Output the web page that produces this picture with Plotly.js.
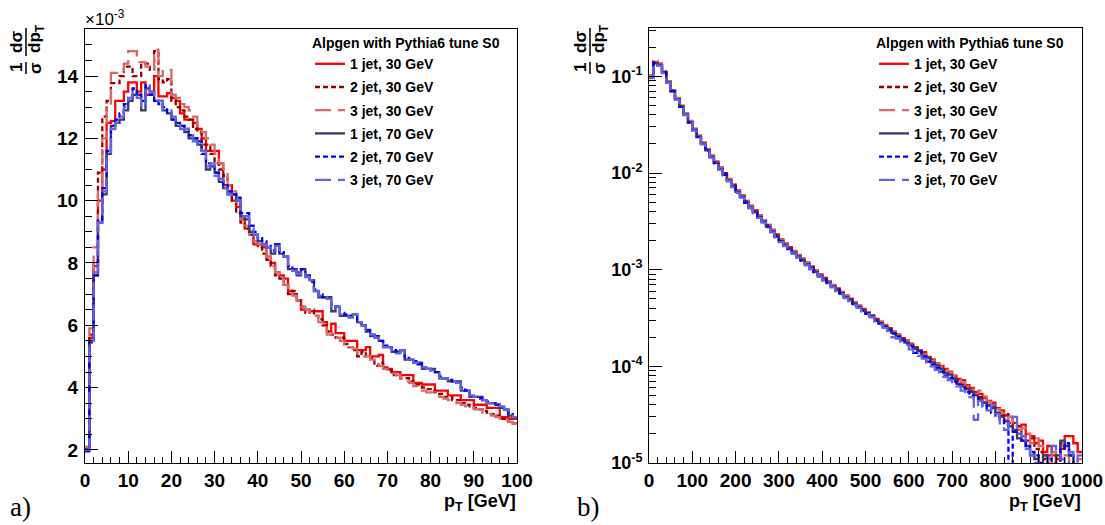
<!DOCTYPE html>
<html><head><meta charset="utf-8">
<script src="https://cdn.plot.ly/plotly-3.0.1.min.js"></script>
<style>html,body{margin:0;padding:0;background:#fff}#chart{width:1105px;height:525px}</style>
</head><body><div id="chart"></div>
<script>
// ---------- series definitions ----------
const seriesNames = ['1 jet, 30 GeV','2 jet, 30 GeV','3 jet, 30 GeV','1 jet, 70 GeV','2 jet, 70 GeV','3 jet, 70 GeV'];
const seriesColors = ['#ff0000','#990000','#d86a6a','#3a3a6a','#0000ff','#6464dc'];
const seriesDash = ['solid','5px,3px','16px,7px','solid','5px,3px','16px,7px'];
const legendTitle = 'Alpgen with Pythia6 tune S0';

// ---------- panel a) : 0-100 GeV, 1 GeV bins, values in units of 1e-3 ----------
const leftBinWidth = 1;
const leftYTickVals = [2,4,6,8,10,12,14];
const a_1jet30 = [2.05,5.6,7.9,10.0,11.0,12.5,12.55,13.2,13.2,13.5,
 13.8,13.8,13.5,13.8,13.4,13.4,14.0,13.35,13.35,13.45,
 13.3,13.2,12.8,12.6,12.6,12.5,12.3,12.0,11.6,11.6,
 11.6,11.2,10.5,10.5,10.0,9.8,9.4,9.1,8.9,8.6,
 8.6,8.5,8.2,8.0,7.7,7.6,7.5,7.1,7.0,6.8,
 6.5,6.5,6.45,6.45,6.45,6.1,5.8,6.05,5.75,5.75,
 5.5,5.5,5.5,5.2,5.2,5.3,5.0,5.0,5.05,4.65,
 4.6,4.5,4.5,4.4,4.4,4.4,4.15,4.15,4.1,4.1,
 4.1,3.9,3.9,3.9,3.75,3.75,3.75,3.6,3.6,3.6,
 3.45,3.45,3.45,3.35,3.35,3.35,3.05,3.05,3.0,3.0];
const a_2jet30 = [2.0,5.7,8.0,10.9,12.7,13.2,13.77,13.77,14.0,14.3,
 14.3,14.0,14.0,14.4,14.4,14.2,14.8,13.9,13.8,13.9,
 13.2,13.0,12.9,12.7,12.6,12.3,12.2,11.8,11.8,11.5,
 11.2,11.0,10.8,10.3,10.0,9.6,9.3,9.1,8.9,8.7,
 8.5,8.3,8.1,7.9,7.6,7.5,7.3,7.0,7.1,6.8,
 6.6,6.4,6.5,6.3,6.2,6.0,5.8,5.7,5.6,5.6,
 5.4,5.3,5.2,5.0,5.15,5.0,4.95,4.7,4.8,4.6,
 4.55,4.4,4.4,4.3,4.3,4.2,4.1,4.1,4.0,3.95,
 3.9,3.85,3.8,3.7,3.7,3.6,3.6,3.5,3.45,3.4,
 3.35,3.3,3.25,3.2,3.15,3.1,3.0,3.0,2.9,2.85];
const a_3jet30 = [2.1,5.9,8.5,10.4,12.0,13.0,14.1,14.1,14.1,14.4,
 14.8,14.8,14.45,14.45,14.3,14.2,14.85,14.0,14.2,14.2,
 13.4,13.3,13.1,13.0,12.9,12.7,12.4,12.2,12.0,11.8,
 11.5,11.2,10.9,10.5,10.3,9.8,9.4,9.2,8.9,8.7,
 8.6,8.4,8.2,7.9,7.7,7.5,7.3,7.2,6.95,6.8,
 6.6,6.5,6.3,6.3,6.1,6.0,5.7,5.75,5.6,5.5,
 5.4,5.3,5.25,5.1,5.0,5.0,4.9,4.8,4.7,4.6,
 4.5,4.45,4.4,4.3,4.2,4.15,4.05,4.0,3.9,3.85,
 3.85,3.8,3.7,3.65,3.6,3.55,3.5,3.45,3.4,3.35,
 3.3,3.3,3.2,3.15,3.1,3.05,3.0,2.95,2.9,2.85];
const a_1jet70 = [2.0,5.5,7.6,9.3,10.2,11.5,12.4,12.5,12.6,12.9,
 13.2,13.4,13.4,12.9,13.6,13.5,13.2,13.2,12.9,12.8,
 12.6,12.4,12.4,12.2,12.0,12.0,11.8,11.6,11.0,11.1,
 10.9,10.6,10.4,10.2,10.2,10.0,9.5,9.4,9.0,8.9,
 8.7,8.6,8.5,8.3,8.6,8.3,8.2,7.8,7.8,7.6,
 7.8,7.6,7.45,7.1,6.9,6.9,6.9,6.45,6.6,6.3,
 6.3,6.3,6.35,6.1,6.0,5.8,5.65,5.65,5.5,5.3,
 5.3,5.15,5.15,5.2,4.9,4.9,4.8,4.8,4.6,4.6,
 4.6,4.5,4.3,4.3,4.2,4.2,4.2,3.9,3.9,3.7,
 3.7,3.7,3.6,3.5,3.5,3.45,3.35,3.3,3.1,3.05];
const a_2jet70 = [1.95,5.45,7.6,9.4,10.4,11.6,12.4,12.6,12.8,13.1,
 13.3,13.6,13.4,13.2,13.7,13.4,13.2,13.1,13.0,12.8,
 12.6,12.5,12.4,12.3,12.1,12.0,11.9,11.5,11.2,11.1,
 10.9,10.7,10.5,10.3,10.2,10.1,9.6,9.6,9.2,9.0,
 8.8,8.7,8.55,8.4,8.6,8.35,8.2,7.9,7.8,7.7,
 7.8,7.6,7.4,7.15,7.0,6.9,6.85,6.6,6.6,6.4,
 6.35,6.3,6.3,6.1,6.0,5.85,5.7,5.65,5.5,5.35,
 5.3,5.2,5.15,5.2,4.95,4.9,4.85,4.75,4.65,4.6,
 4.55,4.5,4.35,4.3,4.25,4.2,4.15,4.0,3.9,3.75,
 3.7,3.65,3.6,3.55,3.5,3.45,3.35,3.25,3.15,3.05];
const a_3jet70 = [2.0,5.5,7.7,9.3,10.3,11.5,12.3,12.5,12.7,13.0,
 13.3,13.5,13.3,13.0,13.7,13.5,13.3,13.2,12.9,12.9,
 12.7,12.5,12.3,12.3,12.1,11.9,11.8,11.6,11.1,11.2,
 10.8,10.7,10.4,10.2,10.1,10.0,9.5,9.5,9.1,8.9,
 8.8,8.6,8.5,8.35,8.55,8.3,8.2,7.85,7.75,7.65,
 7.75,7.55,7.45,7.1,6.95,6.9,6.85,6.5,6.6,6.35,
 6.3,6.25,6.35,6.1,6.0,5.8,5.7,5.6,5.5,5.3,
 5.3,5.2,5.1,5.2,4.9,4.9,4.8,4.8,4.65,4.6,
 4.55,4.45,4.3,4.3,4.25,4.2,4.15,3.95,3.9,3.75,
 3.7,3.7,3.6,3.5,3.5,3.45,3.4,3.3,3.1,3.05];

// ---------- panel b) : 0-1000 GeV, 10 GeV bins (0 = empty bin) ----------
const rightBinWidth = 10;
const rightYTickVals = [1e-5,1e-4,1e-3,1e-2,1e-1];
const rightYTickText = ['10<sup>-5</sup>','10<sup>-4</sup>','10<sup>-3</sup>','10<sup>-2</sup>','10<sup>-1</sup>'];
const b_1jet30 = [0.100,0.140,0.133,0.111,0.0880,0.0715,0.0595,0.0495,0.0412,0.0343,
 0.0286,0.0243,0.0207,0.0177,0.0151,0.0131,0.0114,0.00995,0.00868,0.00757,
 0.00660,0.00590,0.00515,0.00460,0.00410,0.00366,0.00326,0.00291,0.00260,0.00231,
 0.00207,0.00188,0.00171,0.00156,0.00142,0.00130,0.00119,0.00108,0.000985,0.000900,
 0.000820,0.000760,0.000695,0.000640,0.000590,0.000540,0.000500,0.000462,0.000425,0.000392,
 0.000362,0.000338,0.000310,0.000290,0.000268,0.000248,0.000228,0.000214,0.000196,0.000185,
 0.000172,0.000158,0.000146,0.000140,0.000125,0.000118,0.000108,0.000101,0.0000940,0.0000880,
 0.0000800,0.0000740,0.0000720,0.0000640,0.0000600,0.0000540,0.0000520,0.0000470,0.0000440,0.0000420,
 0.0000370,0.0000350,0.0000310,0.0000300,0.0000260,0.0000240,0.0000250,0.0000200,0.0000190,0.0000160,
 0.0000170,0.0000130,0.0000150,0.0000120,0.0000110,0.0000140,0.0000190,0.0000190,0.0000160,0.0000130];
const b_2jet30 = [0.099,0.142,0.135,0.112,0.0885,0.0712,0.0590,0.0492,0.0410,0.0342,
 0.0284,0.0241,0.0206,0.0176,0.0150,0.0130,0.0113,0.00990,0.00860,0.00752,
 0.00655,0.00585,0.00512,0.00457,0.00407,0.00362,0.00323,0.00288,0.00257,0.00229,
 0.00205,0.00186,0.00170,0.00154,0.00140,0.00128,0.00117,0.00107,0.000975,0.000890,
 0.000812,0.000752,0.000690,0.000632,0.000582,0.000535,0.000496,0.000455,0.000420,0.000388,
 0.000358,0.000332,0.000306,0.000285,0.000262,0.000244,0.000226,0.000208,0.000194,0.000180,
 0.000166,0.000155,0.000142,0.000132,0.000122,0.000112,0.000106,0.0000970,0.0000900,0.0000830,
 0.0000780,0.0000700,0.0000660,0.0000600,0.0000560,0.0000540,0.0000480,0.0000420,0.0000400,0.0000380,
 0.0000330,0.0000310,0.0000320,0.0000260,0.0000230,0.0000240,0.0000190,0.0000170,0.0000180,0.0000140,
 0.0000130,0.0000110,0.0000120,0.0000100,0.0000090,0.0000160,0.0000140,0.0000120,0.0000080,0.0000060];
const b_3jet30 = [0.103,0.145,0.137,0.113,0.0890,0.0720,0.0598,0.0497,0.0415,0.0345,
 0.0287,0.0244,0.0208,0.0178,0.0152,0.0131,0.0114,0.00998,0.00865,0.00755,
 0.00658,0.00588,0.00514,0.00458,0.00409,0.00365,0.00325,0.00290,0.00258,0.00230,
 0.00206,0.00187,0.00170,0.00155,0.00141,0.00129,0.00118,0.00107,0.000980,0.000895,
 0.000818,0.000756,0.000692,0.000636,0.000588,0.000545,0.000498,0.000458,0.000424,0.000390,
 0.000360,0.000335,0.000308,0.000288,0.000265,0.000246,0.000228,0.000210,0.000195,0.000182,
 0.000168,0.000156,0.000145,0.000134,0.000124,0.000115,0.000107,0.0000990,0.0000920,0.0000860,
 0.0000790,0.0000730,0.0000680,0.0000620,0.0000580,0.0000520,0.0000560,0.0000490,0.0000430,0.0000400,
 0.0000360,0.0000330,0.0000280,0.0000300,0.0000260,0.0000220,0.0000230,0.0000200,0.0000160,0.0000180,
 0.0000150,0.0000120,0.0000100,0.0000130,0.0000110,0.0000150,0.0000120,0.0000090,0.0000070,0.0000110];
const b_1jet70 = [0.098,0.136,0.130,0.109,0.0865,0.0702,0.0582,0.0484,0.0402,0.0335,
 0.0279,0.0237,0.0201,0.0172,0.0147,0.0127,0.0110,0.00962,0.00838,0.00730,
 0.00637,0.00568,0.00496,0.00442,0.00394,0.00351,0.00313,0.00279,0.00249,0.00222,
 0.00198,0.00180,0.00164,0.00150,0.00137,0.00125,0.00114,0.00104,0.000950,0.000865,
 0.000790,0.000735,0.000672,0.000615,0.000572,0.000522,0.000488,0.000445,0.000415,0.000380,
 0.000355,0.000330,0.000300,0.000280,0.000260,0.000240,0.000222,0.000205,0.000190,0.000176,
 0.000165,0.000152,0.000145,0.000128,0.000122,0.000110,0.000102,0.0000940,0.0000850,0.0000820,
 0.0000740,0.0000660,0.0000620,0.0000580,0.0000540,0.0000500,0.0000460,0.0000420,0.0000390,0.0000370,
 0.0000330,0.0000300,0.0000270,0.0000240,0.0000220,0.0000180,0.0000170,0.0000150,0.0000120,0.0000110,
 0.0000100,0.0000120,0.0000090,0.0000080,0.0000120,0.0000170,0.0000150,0.0000120,0.0000090,0.0000070];
const b_2jet70 = [0.097,0.137,0.131,0.109,0.0862,0.0698,0.0580,0.0482,0.0400,0.0333,
 0.0277,0.0235,0.0200,0.0171,0.0146,0.0126,0.0109,0.00955,0.00830,0.00724,
 0.00632,0.00562,0.00492,0.00438,0.00390,0.00348,0.00310,0.00276,0.00246,0.00220,
 0.00196,0.00178,0.00163,0.00148,0.00135,0.00124,0.00113,0.00103,0.000940,0.000858,
 0.000782,0.000728,0.000665,0.000610,0.000566,0.000518,0.000480,0.000440,0.000410,0.000376,
 0.000350,0.000325,0.000296,0.000276,0.000255,0.000236,0.000218,0.000200,0.000186,0.000172,
 0.000160,0.000138,0.000142,0.000125,0.000112,0.000104,0.0000960,0.0000880,0.0000800,0.0000760,
 0.0000700,0.0000640,0.0000600,0.0000540,0.0000500,0.0000470,0.0000430,0.0000400,0.0000360,0.0000330,
 0.0000300,0.0000280,0.0000250,0,0.0000210,0.0000200,0.0000170,0.0000150,0.0000130,0.0000120,
 0.0000100,0.0000090,0.0000110,0.0000070,0,0.0000140,0.0000160,0.0000120,0.0000060,0];
const b_3jet70 = [0.096,0.135,0.129,0.108,0.0855,0.0692,0.0575,0.0478,0.0396,0.0330,
 0.0274,0.0232,0.0198,0.0169,0.0144,0.0124,0.0108,0.00945,0.00822,0.00716,
 0.00625,0.00555,0.00486,0.00432,0.00385,0.00343,0.00306,0.00272,0.00243,0.00216,
 0.00193,0.00175,0.00160,0.00146,0.00133,0.00122,0.00111,0.00101,0.000925,0.000845,
 0.000772,0.000718,0.000655,0.000600,0.000556,0.000508,0.000472,0.000432,0.000402,0.000370,
 0.000345,0.000322,0.000292,0.000272,0.000250,0.000232,0.000200,0.000194,0.000180,0.000168,
 0.000150,0.000140,0.000128,0.000120,0.000110,0.000100,0.0000920,0.0000860,0.0000780,0.0000720,
 0.0000660,0.0000620,0.0000560,0.0000520,0.0000480,0.0000280,0.0000440,0.0000380,0.0000350,0.0000400,
 0.0000320,0.0000250,0.0000220,0.0000260,0.0000300,0.0000200,0.0000190,0.0000140,0.0000120,0.0000100,
 0.0000090,0.0000080,0.0000110,0.0000150,0.0000130,0.0000110,0.0000080,0.0000130,0.0000100,0.0000120];

const leftSeries = [a_1jet30,a_2jet30,a_3jet30,a_1jet70,a_2jet70,a_3jet70];
const rightSeries = [b_1jet30,b_2jet30,b_3jet30,b_1jet70,b_2jet70,b_3jet70];

// ---------- helpers ----------
const W = 1105, H = 525;
const px = x => x / W;
const py = y => 1 - y / H;
const FONT = '"Liberation Sans", Arial, Helvetica, sans-serif';
function edges(n, w){ const e=[]; for(let i=0;i<=n;i++) e.push(i*w); return e; }
function stepY(v, floor){ const s = v.map(d => (d > 0 ? d : floor)); s.push(s[s.length-1]); return s; }

const traces = [];
leftSeries.forEach((v,i) => traces.push({
  type:'scatter', mode:'lines', x: edges(v.length, leftBinWidth), y: stepY(v, 0),
  xaxis:'x', yaxis:'y', name: seriesNames[i], legend:'legend', legendgroup:'a'+i,
  line:{shape:'hv', color: seriesColors[i], width:2.3, dash: seriesDash[i]}, hoverinfo:'skip'
}));
rightSeries.forEach((v,i) => traces.push({
  type:'scatter', mode:'lines', x: edges(v.length, rightBinWidth), y: stepY(v, 1e-9),
  xaxis:'x2', yaxis:'y2', name: seriesNames[i], legend:'legend2', legendgroup:'b'+i,
  line:{shape:'hv', color: seriesColors[i], width:2.3, dash: seriesDash[i]}, hoverinfo:'skip'
}));

const tickFont = {family: FONT, size: 19, color:'#000', weight:'bold'};
const axBase = {showline:true, mirror:true, linecolor:'#000', linewidth:1, ticks:'inside', ticklen:12,
  tickwidth:1, tickcolor:'#000', showgrid:false, zeroline:false, tickfont: tickFont, fixedrange:true};

const legendBase = (x) => ({x: px(x), y: py(30), xanchor:'left', yanchor:'top', bgcolor:'rgba(0,0,0,0)',
  borderwidth:0, font:{family:FONT, size:14, color:'#000', weight:'bold'}, traceorder:'grouped', tracegroupgap:2,
  title:{text: legendTitle, font:{family:FONT, size:14, color:'#000', weight:'bold'}}});

// y-title pieces: 1/σ · dσ/dp_T rotated
function yTitle(dx){
  const f = {family:FONT, size:17, color:'#000', weight:'bold'};
  const mk = (t,x,y) => ({text:t, x:px(x+dx), y:py(y), xref:'paper', yref:'paper', showarrow:false,
    textangle:-90, xanchor:'center', yanchor:'middle', font:f});
  return [mk('dσ',17,42), mk('dp<sub>T</sub>',36,39), mk('1',17,68), mk('σ',36,68)];
}
function yTitleBars(dx){
  const l = {color:'#000', width:1.5};
  return [
    {type:'line', xref:'paper', yref:'paper', x0:px(26+dx), x1:px(26+dx), y0:py(28), y1:py(56), line:l},
    {type:'line', xref:'paper', yref:'paper', x0:px(26+dx), x1:px(26+dx), y0:py(62), y1:py(74), line:l}
  ];
}

const layout = {
  width: W, height: H, margin:{l:0,r:0,t:0,b:0}, paper_bgcolor:'#fff', plot_bgcolor:'#fff',
  font:{family:FONT, color:'#000'}, showlegend:true,
  xaxis: Object.assign({}, axBase, {domain:[px(85), px(517)], range:[0,100], anchor:'y', tick0:0, dtick:10,
    ticklabelstandoff:0, minor:{dtick:2, ticklen:6, ticks:'inside', tickcolor:'#000', showgrid:false}}),
  yaxis: Object.assign({}, axBase, {domain:[py(463), py(29)], range:[1.58,15.51], anchor:'x',
    tickmode:'array', tickvals:leftYTickVals,
    ticklen:13, ticklabelstandoff:2, minor:{dtick:0.5, ticklen:6.5, ticks:'inside', tickcolor:'#000', showgrid:false}}),
  xaxis2: Object.assign({}, axBase, {domain:[px(649), px(1082)], range:[0,1000], anchor:'y2', tick0:0, dtick:100,
    ticklabelstandoff:0, minor:{dtick:20, ticklen:6, ticks:'inside', tickcolor:'#000', showgrid:false}}),
  yaxis2: Object.assign({}, axBase, {domain:[py(463), py(28)], type:'log', range:[-5,-0.5], anchor:'x2',
    tickmode:'array', tickvals:rightYTickVals, ticktext:rightYTickText,
    tickfont:{family:FONT, size:18, color:'#000', weight:'bold'},
    ticklen:13, ticklabelstandoff:2,
    minor:{dtick:'D1', ticklen:6.5, ticks:'inside', tickcolor:'#000', showgrid:false}}),
  legend: legendBase(310),
  legend2: legendBase(874),
  annotations: [
    {text:'×10<sup>-3</sup>', x:px(83), y:py(18), xref:'paper', yref:'paper', xanchor:'left', yanchor:'middle',
      showarrow:false, font:{family:FONT, size:17, color:'#000'}},
    {text:'p<sub>T</sub> [GeV]', x:px(518), y:py(502), xref:'paper', yref:'paper', xanchor:'right', yanchor:'middle',
      showarrow:false, font:{family:FONT, size:18, color:'#000', weight:'bold'}},
    {text:'p<sub>T</sub> [GeV]', x:px(1083), y:py(502), xref:'paper', yref:'paper', xanchor:'right', yanchor:'middle',
      showarrow:false, font:{family:FONT, size:18, color:'#000', weight:'bold'}},
    {text:'a)', x:px(8), y:py(507), xref:'paper', yref:'paper', xanchor:'left', yanchor:'middle',
      showarrow:false, font:{family:'"Liberation Serif", "DejaVu Serif", serif', size:27, color:'#000'}},
    {text:'b)', x:px(575), y:py(507), xref:'paper', yref:'paper', xanchor:'left', yanchor:'middle',
      showarrow:false, font:{family:'"Liberation Serif", "DejaVu Serif", serif', size:27, color:'#000'}}
  ].concat(yTitle(0), yTitle(564)),
  shapes: yTitleBars(0).concat(yTitleBars(564))
};

Plotly.newPlot('chart', traces, layout, {staticPlot:true, displayModeBar:false});
</script></body></html>
